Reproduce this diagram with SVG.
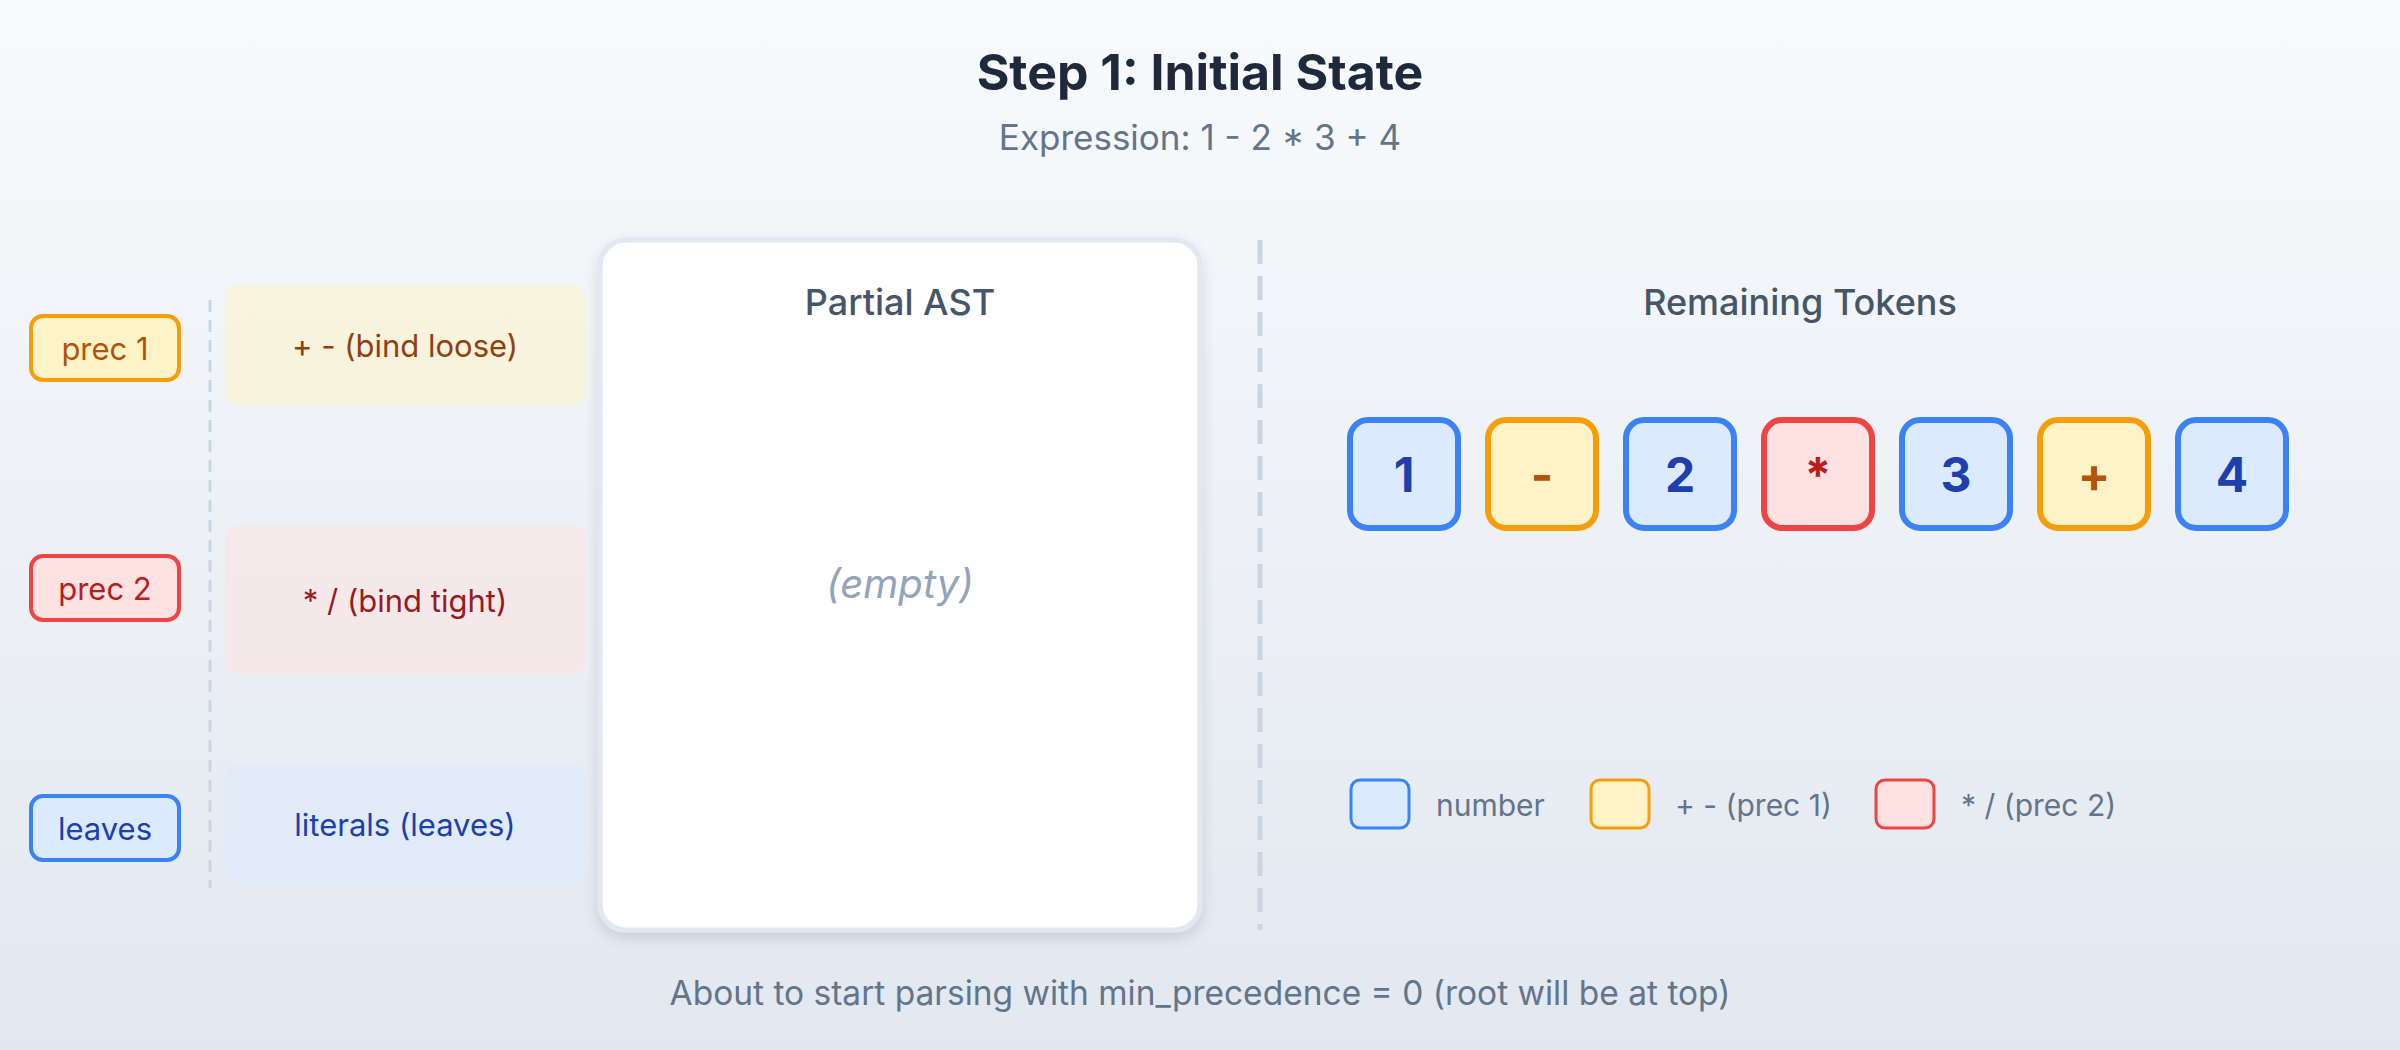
<svg xmlns="http://www.w3.org/2000/svg" width="2400" height="1050" viewBox="0 0 2400 1050">
  <defs>
    <linearGradient id="bg" x1="0" y1="0" x2="0" y2="1">
      <stop offset="0" stop-color="#f8fafc"/>
      <stop offset="1" stop-color="#e2e8f0"/>
    </linearGradient>
    <filter id="shadow" x="-10%" y="-10%" width="120%" height="120%">
      <feDropShadow dx="0" dy="6" stdDeviation="7" flood-color="#0f172a" flood-opacity="0.12"/>
    </filter>
    <style>
      text { font-family: Inter, "Liberation Sans", Arial, sans-serif; }
      .title { font-size: 50px; font-weight: 700; fill: #1e293b; text-anchor: middle; }
      .sub { font-size: 35px; fill: #64748b; text-anchor: middle; }
      .head { font-size: 36px; font-weight: 500; fill: #475569; text-anchor: middle; }
      .lbl { font-size: 31px; text-anchor: middle; dominant-baseline: central; }
      .band { font-size: 31px; text-anchor: middle; dominant-baseline: central; }
      .tok { stroke-width: 6; }
      .toktxt { font-size: 48px; font-weight: 700; text-anchor: middle; dominant-baseline: central; }
      .num { fill: #dbeafe; stroke: #3b82f6; }
      .p1 { fill: #fef3c7; stroke: #f59e0b; }
      .p2 { fill: #fee2e2; stroke: #ef4444; }
      .numt { fill: #1e40af; }
      .p1t { fill: #b45309; }
      .p2t { fill: #b91c1c; }
      .leg { font-size: 30px; fill: #64748b; dominant-baseline: central; }
      .foot { font-size: 33.5px; fill: #64748b; text-anchor: middle; }
      .divider { stroke: #cbd5e1; fill: none; }
    </style>
  </defs>

  <rect x="0" y="0" width="2400" height="1050" fill="url(#bg)"/>

  <g id="header">
    <text class="title" x="1200" y="90">Step 1: Initial State</text>
    <text class="sub" x="1200" y="150">Expression: 1 - 2 * 3 + 4</text>
  </g>

  <g id="connectors">
    <line class="divider" x1="210" y1="300" x2="210" y2="888" stroke-width="3" stroke-dasharray="12 8"/>
    <line class="divider" x1="1260" y1="240" x2="1260" y2="930" stroke-width="5" stroke-dasharray="24 12"/>
  </g>

  <g id="level-prec1">
    <rect x="225" y="285" width="360" height="120" rx="12" fill="#fef3c7" opacity="0.55"/>
    <text class="band" x="405" y="345" fill="#92400e">+ - (bind loose)</text>
    <rect class="p1" x="31" y="316" width="148" height="64" rx="12" stroke-width="4"/>
    <text class="lbl p1t" x="105" y="348">prec 1</text>
  </g>

  <g id="level-prec2">
    <rect x="225" y="526" width="360" height="148" rx="12" fill="#fee2e2" opacity="0.55"/>
    <text class="band" x="405" y="600" fill="#991b1b">* / (bind tight)</text>
    <rect class="p2" x="31" y="556" width="148" height="64" rx="12" stroke-width="4"/>
    <text class="lbl p2t" x="105" y="588">prec 2</text>
  </g>

  <g id="level-leaves">
    <rect x="225" y="765" width="360" height="119" rx="12" fill="#dbeafe" opacity="0.5"/>
    <text class="band" x="405" y="824" fill="#1e40af">literals (leaves)</text>
    <rect class="num" x="31" y="796" width="148" height="64" rx="12" stroke-width="4"/>
    <text class="lbl numt" x="105" y="828">leaves</text>
  </g>

  <g id="partial-ast">
    <rect x="600" y="240" width="600" height="690" rx="26" fill="#ffffff" stroke="#e2e8f0" stroke-width="5" filter="url(#shadow)"/>
    <text class="head" x="900" y="315">Partial AST</text>
    <text x="900" y="598" font-size="40" font-style="italic" fill="#94a3b8" text-anchor="middle">(empty)</text>
  </g>

  <g id="remaining-tokens">
    <text class="head" x="1800" y="315">Remaining Tokens</text>
  </g>

  <g id="tok-1"><rect class="tok num" x="1350" y="420" width="108" height="108" rx="18"/><text class="toktxt numt" x="1404" y="474">1</text></g>
  <g id="tok-minus"><rect class="tok p1" x="1488" y="420" width="108" height="108" rx="18"/><text class="toktxt p1t" x="1542" y="474">-</text></g>
  <g id="tok-2"><rect class="tok num" x="1626" y="420" width="108" height="108" rx="18"/><text class="toktxt numt" x="1680" y="474">2</text></g>
  <g id="tok-mul"><rect class="tok p2" x="1764" y="420" width="108" height="108" rx="18"/><text class="toktxt p2t" x="1818" y="474">*</text></g>
  <g id="tok-3"><rect class="tok num" x="1902" y="420" width="108" height="108" rx="18"/><text class="toktxt numt" x="1956" y="474">3</text></g>
  <g id="tok-plus"><rect class="tok p1" x="2040" y="420" width="108" height="108" rx="18"/><text class="toktxt p1t" x="2094" y="474">+</text></g>
  <g id="tok-4"><rect class="tok num" x="2178" y="420" width="108" height="108" rx="18"/><text class="toktxt numt" x="2232" y="474">4</text></g>

  <g id="legend">
    <rect class="num" x="1351" y="780" width="58" height="48" rx="9" stroke-width="3"/>
    <text class="leg" x="1436" y="805">number</text>
    <rect class="p1" x="1591" y="780" width="58" height="48" rx="9" stroke-width="3"/>
    <text class="leg" x="1675" y="805">+ - (prec 1)</text>
    <rect class="p2" x="1876" y="780" width="58" height="48" rx="9" stroke-width="3"/>
    <text class="leg" x="1961" y="805">* / (prec 2)</text>
  </g>

  <g id="footer">
    <text class="foot" x="1200" y="1005">About to start parsing with min_precedence = 0 (root will be at top)</text>
  </g>
</svg>
